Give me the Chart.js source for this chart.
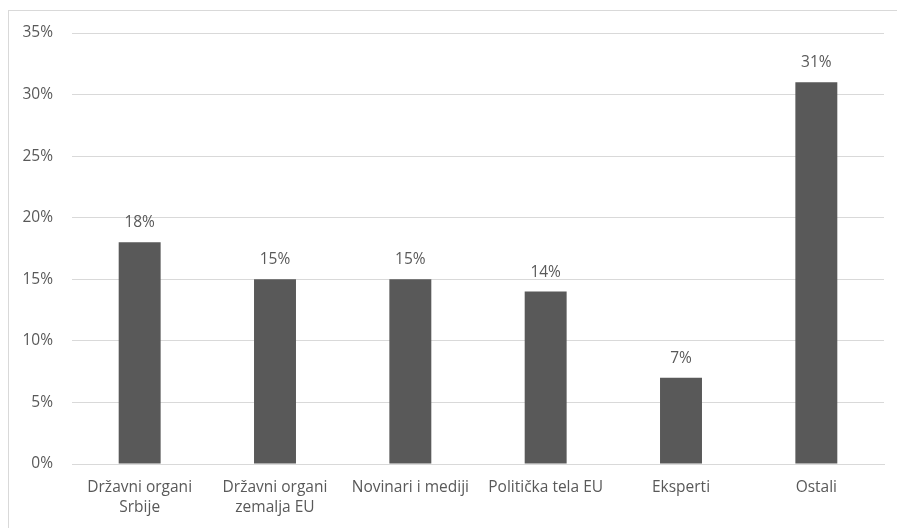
<!DOCTYPE html>
<html>
<head>
<meta charset="utf-8">
<script src="https://cdn.jsdelivr.net/npm/chart.js@4.4.1/dist/chart.umd.min.js"></script>
<style>
  html, body { margin: 0; padding: 0; background: #fff; }
  #wrap { position: relative; width: 897px; height: 528px; overflow: hidden; }
  #frame { position: absolute; left: 8px; top: 10px; width: 1000px; height: 1000px; border: 1px solid #d9d9d9; box-sizing: border-box; }
  #chart { position: absolute; left: 0; top: 0; }
</style>
</head>
<body>
<div id="wrap">
  <div id="frame"></div>
  <canvas id="chart" width="897" height="528"></canvas>
</div>
<script>
const categories = [
  ['Državni organi', 'Srbije'],
  ['Državni organi', 'zemalja EU'],
  'Novinari i mediji',
  'Politička tela EU',
  'Eksperti',
  'Ostali'
];
const shares = [18, 15, 15, 14, 7, 31];
const yTicks = [0, 5, 10, 15, 20, 25, 30, 35];

const textColor = '#595959';
const fontFamily = '"Open Sans", Lato, sans-serif';
const fontSize = 15.5;

// draws "18%" etc above each bar
const barLabels = {
  id: 'barLabels',
  afterDatasetsDraw(chart) {
    const ctx = chart.ctx;
    const meta = chart.getDatasetMeta(0);
    ctx.save();
    ctx.font = fontSize + 'px ' + fontFamily;
    ctx.fillStyle = textColor;
    ctx.textAlign = 'center';
    ctx.textBaseline = 'alphabetic';
    meta.data.forEach((bar, i) => {
      ctx.fillText(shares[i] + '%', bar.x, bar.y - 15);
    });
    ctx.restore();
  }
};

new Chart(document.getElementById('chart').getContext('2d'), {
  type: 'bar',
  data: {
    labels: categories,
    datasets: [{
      data: shares,
      backgroundColor: '#595959',
      categoryPercentage: 1,
      barPercentage: 0.31
    }]
  },
  options: {
    responsive: false,
    animation: false,
    layout: { padding: { left: 8, right: 13, top: 33, bottom: 0 } },
    plugins: { legend: { display: false }, tooltip: { enabled: false } },
    scales: {
      x: {
        grid: { display: false, drawTicks: false },
        border: { color: '#d9d9d9', width: 1 },
        ticks: { color: textColor, font: { family: fontFamily, size: fontSize, lineHeight: 1.29 }, padding: 14, maxRotation: 0, autoSkip: false },
        afterFit(scale) { scale.height = 64; }
      },
      y: {
        min: 0,
        max: 35,
        afterBuildTicks(scale) { scale.ticks = yTicks.map(v => ({ value: v })); },
        grid: { color: '#d9d9d9', drawTicks: false },
        border: { display: false },
        ticks: { color: textColor, font: { family: fontFamily, size: fontSize }, padding: 19, callback: v => v + '%' },
        afterFit(scale) { scale.width = 64; }
      }
    }
  },
  plugins: [barLabels]
});
</script>
</body>
</html>
